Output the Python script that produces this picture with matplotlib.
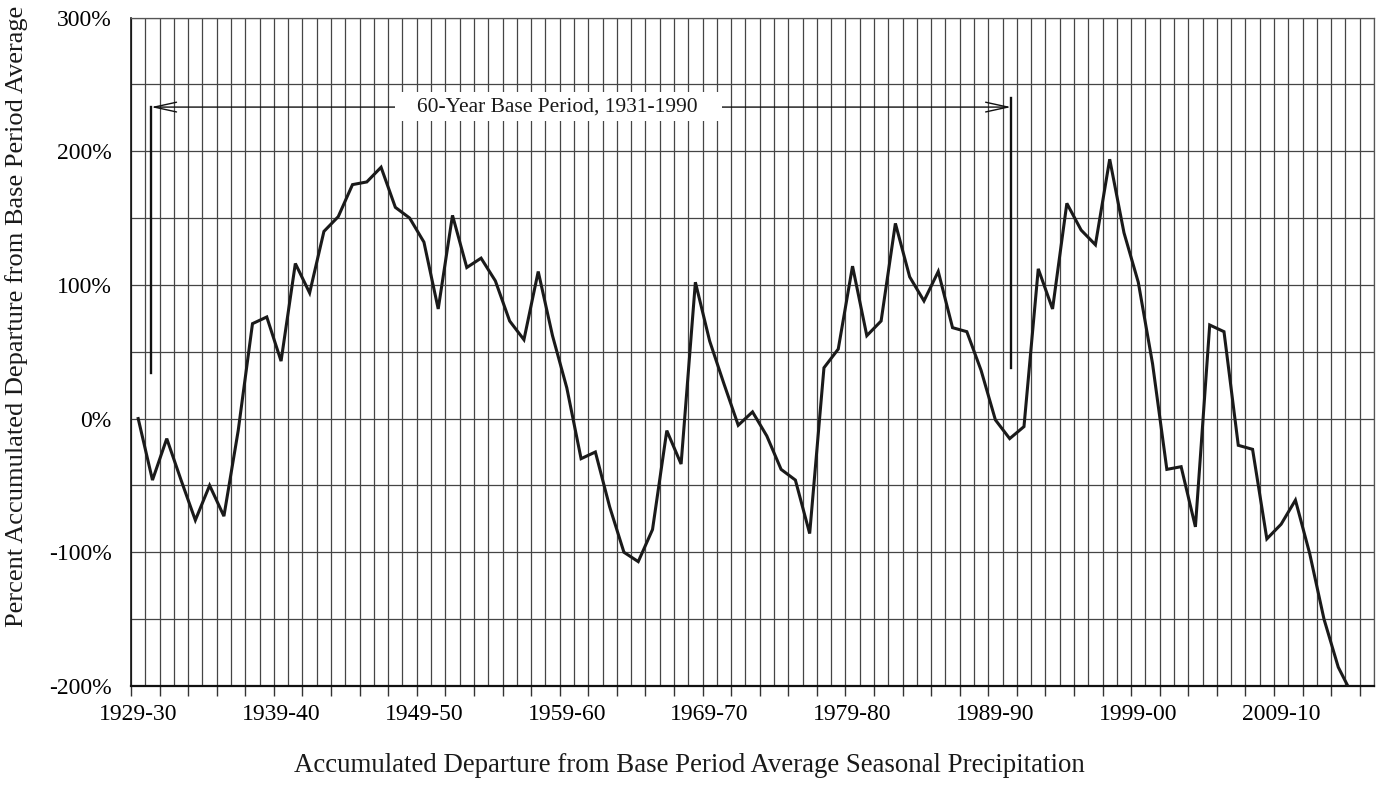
import matplotlib
matplotlib.use("Agg")
import matplotlib.pyplot as plt
from matplotlib.patches import Rectangle
import numpy as np

plt.rcParams["font.family"] = ["Liberation Serif", "DejaVu Serif"]

# accumulated departure (%), one value per season starting 1929-30
departure = [
    0, -46, -15, -46, -76, -50, -73, -9, 71, 76,
    43, 116, 94, 140, 151, 175, 177, 188, 158, 150,
    132, 82, 152, 113, 120, 103, 73, 59, 110, 62,
    23, -30, -25, -66, -100, -107, -83, -9, -34, 102,
    58, 26, -5, 5, -13, -38, -46, -86, 38, 52,
    114, 62, 73, 146, 106, 88, 110, 68, 65, 36,
    -1, -15, -6, 112, 82, 161, 141, 130, 194, 139,
    102, 41, -38, -36, -81, 70, 65, -20, -23, -90,
    -79, -61, -101, -150, -186, -207,
]
season_labels = ["1929-30", "1939-40", "1949-50", "1959-60", "1969-70",
                 "1979-80", "1989-90", "1999-00", "2009-10"]
n_cells = 87  # category slots on the axis (1929-30 .. 2015-16)
y_ticks = [-200, -100, 0, 100, 200, 300]
y_ticklabels = ["-200%", "-100%", "0%", "100%", "200%", "300%"]

# base period markers (x in season index, y in %)
base_left, base_right = 0.9, 61.1
base_text = "60-Year Base Period, 1931-1990"

fig = plt.figure(figsize=(13.78, 8.07), dpi=100)
ax = fig.add_axes([0.0951, 0.150, 0.902, 0.8283])

x = np.arange(len(departure))
ax.plot(x, departure, color="#1a1a1a", lw=2.2, zorder=5, solid_joinstyle="miter")

ax.set_xlim(-0.5, n_cells - 0.5)
ax.set_ylim(-200, 300)

# grid: a vertical line at every category boundary, ticks every other one
bounds = np.arange(n_cells + 1) - 0.5
ax.set_xticks(bounds[::2])
ax.set_xticks(bounds[1::2], minor=True)
ax.set_xticklabels([])
ax.tick_params(axis="x", which="major", length=7, width=1.0, direction="out", color="#333333")
ax.tick_params(axis="x", which="minor", length=0)

ax.set_yticks(y_ticks)
ax.set_yticklabels(y_ticklabels)
ax.set_yticks(np.arange(-150, 300, 100), minor=True)
ax.tick_params(axis="y", which="both", length=0, pad=14, labelsize=17)

ax.grid(True, which="both", color="#454545", lw=0.9)
ax.set_axisbelow(True)

# season labels sit at category centres
sec = ax.secondary_xaxis("bottom")
sec.set_xticks(np.arange(len(season_labels)) * 10, season_labels)
sec.tick_params(length=0, pad=13, labelsize=17)
sec.spines["bottom"].set_visible(False)

for side in ["top", "right"]:
    ax.spines[side].set_color("#555555")
    ax.spines[side].set_linewidth(0.9)
ax.spines["bottom"].set_linewidth(1.6)
ax.spines["bottom"].set_color("#111111")
ax.spines["left"].set_linewidth(1.2)
ax.spines["left"].set_color("#111111")

# base period annotation
ax.plot([base_left, base_left], [34, 233], color="#111111", lw=1.7, zorder=6)
ax.plot([base_right, base_right], [38, 240], color="#111111", lw=1.7, zorder=6)
ax.annotate("", xy=(base_left, 233), xytext=(base_right, 233),
            arrowprops=dict(arrowstyle="<->,head_length=1.6,head_width=0.35",
                            mutation_scale=10, lw=1.0, color="#111111",
                            shrinkA=0, shrinkB=0), zorder=6)
ax.add_patch(Rectangle((17.96, 222.4), 40.87 - 17.96, 244 - 222.4,
                       facecolor="white", edgecolor="none", zorder=7))
ax.text(29.35, 233, base_text, ha="center", va="center", fontsize=15.5,
        color="#1a1a1a", zorder=8)

fig.text(0.012, 0.608, "Percent Accumulated Departure from Base Period Average",
         rotation=90, ha="center", va="center", fontsize=19, color="#1a1a1a")
fig.text(0.5, 0.052, "Accumulated Departure from Base Period Average Seasonal Precipitation",
         ha="center", va="center", fontsize=19.4, color="#1a1a1a")

fig.savefig("out.png", dpi=100)
